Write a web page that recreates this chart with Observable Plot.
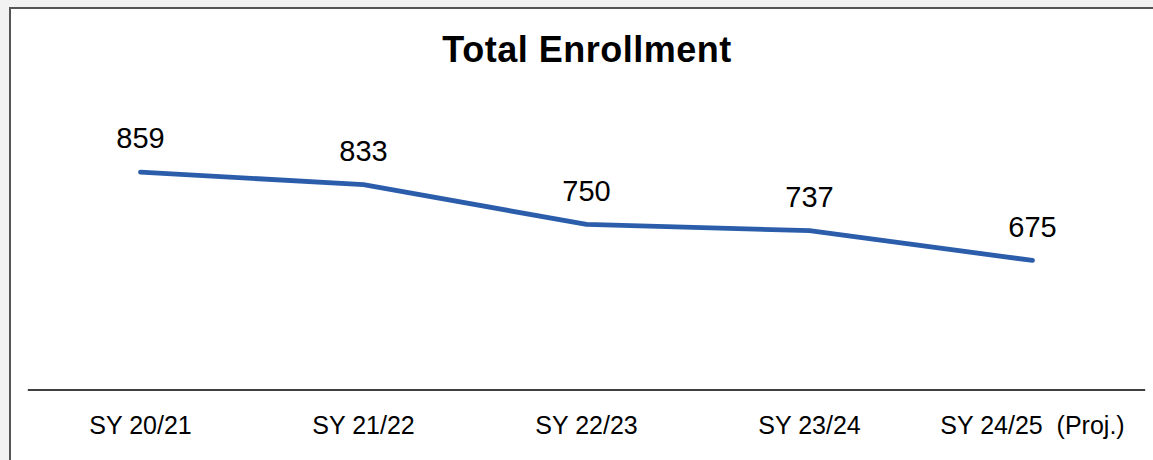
<!DOCTYPE html>
<html>
<head>
<meta charset="utf-8">
<script src="https://cdn.jsdelivr.net/npm/d3@7"></script>
<script src="https://cdn.jsdelivr.net/npm/@observablehq/plot@0.6"></script>
<style>
  html, body { margin: 0; padding: 0; background: #f2f2f2; width: 1153px; height: 460px; overflow: hidden; }
  #frame { position: absolute; left: 9px; top: 7px; width: 1170px; height: 480px; background: #fff; border-left: 2px solid #555; border-top: 2px solid #555; }
  #title { position: absolute; left: 21px; right: 0; top: 30px; text-align: center; font-family: "Liberation Sans", Arial, sans-serif; font-weight: bold; font-size: 36px; line-height: 40px; color: #000; letter-spacing: 0.5px; }
  #chart { position: absolute; left: 0; top: 0; }
</style>
</head>
<body>
<div id="frame"></div>
<div id="title">Total Enrollment</div>
<div id="chart"></div>
<script>
const years = ["SY 20/21", "SY 21/22", "SY 22/23", "SY 23/24", "SY 24/25\u00a0 (Proj.)"];
const enrollment = [859, 833, 750, 737, 675];

const data = years.map((y, i) => ({year: y, value: enrollment[i]}));

const chart = Plot.plot({
  width: 1153,
  height: 460,
  marginLeft: 28,
  marginRight: 9,
  marginTop: 152,
  marginBottom: 70.5,
  style: {fontFamily: "'Liberation Sans', Arial, sans-serif", background: "transparent", color: "#000"},
  x: {type: "point", domain: years, padding: 0.5, label: null},
  y: {domain: [405, 900], axis: null},
  marks: [
    Plot.frame({anchor: "bottom", stroke: "#000", strokeWidth: 1.4}),
    Plot.axisX({tickSize: 0, tickPadding: 26, fontSize: 25, label: null, fill: "#000"}),
    Plot.line(data, {x: "year", y: "value", stroke: "#2B5DAB", strokeWidth: 4.8, strokeLinecap: "round", strokeLinejoin: "round"}),
    Plot.text(data, {x: "year", y: "value", text: d => String(d.value), fontSize: 29, dy: -33, fill: "#000"})
  ]
});
document.getElementById("chart").appendChild(chart);
</script>
</body>
</html>
